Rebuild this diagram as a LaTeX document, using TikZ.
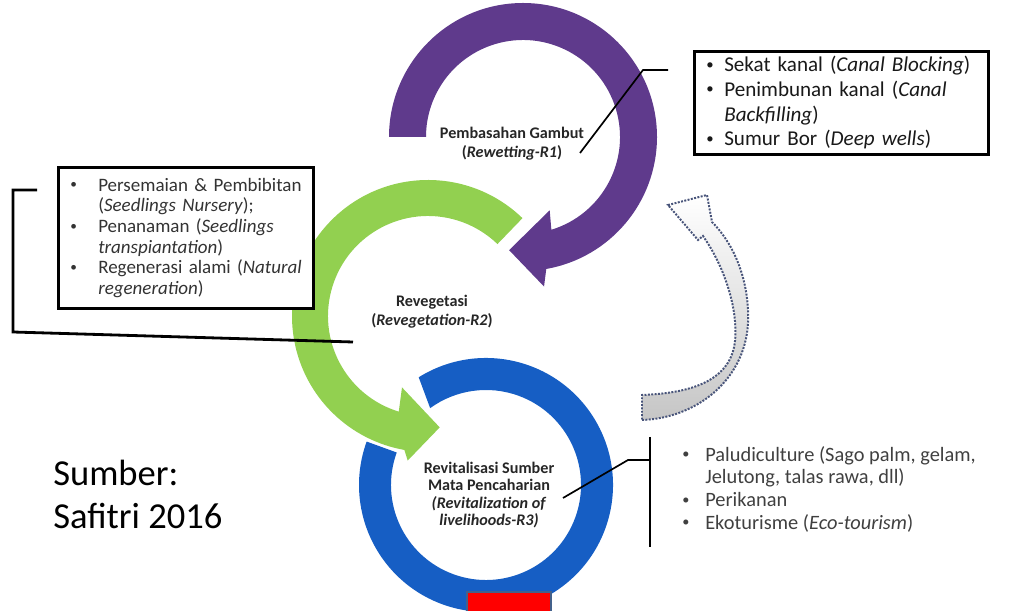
\documentclass[tikz,border=0pt]{standalone}
\usepackage{fontspec}
\setmainfont{Carlito}
\usetikzlibrary{positioning}
\definecolor{ringpurple}{RGB}{95,58,140}
\definecolor{ringgreen}{RGB}{146,208,80}
\definecolor{ringblue}{RGB}{22,94,196}
\definecolor{dotblue}{RGB}{72,84,122}
\definecolor{framegray}{RGB}{68,97,139}
\tikzset{
 ringlabel/.style={font=\bfseries\fontsize{11.5}{13.5}\selectfont, align=center, text=black!85, inner sep=0pt},
 listbox/.style={draw=black, line width=1.8pt, fill=white, align=left, anchor=north west},
 leader/.style={draw=black, line width=1.2pt},
}
\newcommand{\bul}[1]{\makebox[#1][l]{\raisebox{0.12em}{\scalebox{0.7}{\textbullet}}}}

\begin{document}
\begin{tikzpicture}[x=0.025cm, y=0.025cm]
        \useasboundingbox (0,0) rectangle (1019,611);

        % R3 ring
        \begin{scope}[shift={(486,126)}]
            \fill[ringblue] (122:127) arc (122:-200:127) -- (-200:95) arc (-200:126:95) -- cycle;
        \end{scope}
        \draw[framegray, line width=1.5pt, fill=red] (467,-3) rectangle (551,19);

        % R2 arrow
        \begin{scope}[shift={(428,295)}]
            \fill[ringgreen] (46:136) arc (46:260:136) -- (262:146) -- (276:112) -- (250:76) -- (253:100) arc (253:46:100) -- cycle;
        \end{scope}

        % R1 arrow
        \begin{scope}[shift={(523,474)}]
            \fill[ringpurple] (180:134) arc (180:-80:134) -- (-82:151) -- (-97:114) -- (-70:78) -- (-73:97) arc (-73:180:97) -- cycle;
        \end{scope}

        % dotted return arrow
        \draw[dotblue, densely dotted, line width=1.4pt, top color=white, middle color=white, bottom color=gray!45]
            (642,191) .. controls (700,193) and (752,236) .. (748,301)
            .. controls (746,341) and (730,371) .. (712,389)
            -- (707,416) -- (668,406) -- (698,371) -- (703,375)
            .. controls (726,342) and (738,300) .. (735,270)
            .. controls (731,232) and (695,218) .. (642,216) -- cycle;

        % ring labels
        \node[ringlabel] (rewet) at (512,467) {Pembasahan Gambut\\(\textit{Rewetting-R1})};
        \node[ringlabel] (reveg) at (432,299) {Revegetasi\\(\textit{Revegetation-R2})};
        \node[ringlabel, font=\bfseries\fontsize{11.5}{12.2}\selectfont] (revit) at (489,116)
            {Revitalisasi Sumber\\Mata Pencaharian\\\textit{(Revitalization of}\\\textit{livelihoods-R3)}};

        % list boxes
        \node[listbox, font=\fontsize{15}{17.6}\selectfont, text=black!90, text width=6.75cm,
              inner xsep=0.3cm, minimum height=2.575cm] (rewetbox) at (693,561) {%
            \mbox{\bul{0.45cm}Sekat kanal (\textit{Canal Blocking})}\\
            \mbox{\bul{0.45cm}Penimbunan kanal (\textit{Canal}}\\
            \mbox{\hspace*{0.45cm}\textit{Backfilling})}\\
            \mbox{\bul{0.45cm}Sumur Bor (\textit{Deep wells})}};
        \node[listbox, font=\fontsize{13.5}{14.65}\selectfont, text=black!80, text width=5.775cm,
              inner xsep=0.3cm, minimum height=3.525cm] (revegbox) at (57,445) {%
            \mbox{\bul{0.7cm}Persemaian \& Pembibitan}\\
            \mbox{\hspace*{0.7cm}(\textit{Seedlings Nursery});}\\
            \mbox{\bul{0.7cm}Penanaman (\textit{Seedlings}}\\
            \mbox{\hspace*{0.7cm}\textit{transpiantation})}\\
            \mbox{\bul{0.7cm}Regenerasi alami (\textit{Natural}}\\
            \mbox{\hspace*{0.7cm}\textit{regeneration})}};
        \node[font=\fontsize{14.5}{16.1}\selectfont, text=black!75, align=left, anchor=north west,
              inner sep=0pt] (revitlist) at (682,165) {%
            \bul{0.575cm}Paludiculture (Sago palm, gelam,\\
            \hspace*{0.575cm}Jelutong, talas rawa, dll)\\
            \bul{0.575cm}Perikanan\\
            \bul{0.575cm}Ekoturisme (\textit{Eco-tourism})};

        % leader lines
        \coordinate (rewetend) at (668,541);
        \coordinate (rewetbend) at (643,541);
        \coordinate (rewettip) at (580,458);
        \draw[leader] (rewetend) -- (rewetbend) -- (rewettip);

        \coordinate (revegend) at (37,421);
        \coordinate (revegtop) at (13,421);
        \coordinate (revegbot) at (13,279);
        \coordinate (revegtip) at (353,269);
        \draw[leader, line width=2pt] (revegend) -- (revegtop) -- (revegbot) -- (revegtip);

        \coordinate (revitbartop) at (650,174);
        \coordinate (revitbarbot) at (650,64);
        \coordinate (revitjoin) at (650,151);
        \coordinate (revitbend) at (628,151);
        \coordinate (revittip) at (563,113);
        \draw[leader] (revitbartop) -- (revitbarbot);
        \draw[leader] (revittip) -- (revitbend) -- (revitjoin);

        % source
        \node[font=\fontsize{26}{30.6}\selectfont, align=left, anchor=north west, inner sep=0pt]
            (source) at (53,151) {Sumber:\\Safitri 2016};
\end{tikzpicture}
\end{document}
